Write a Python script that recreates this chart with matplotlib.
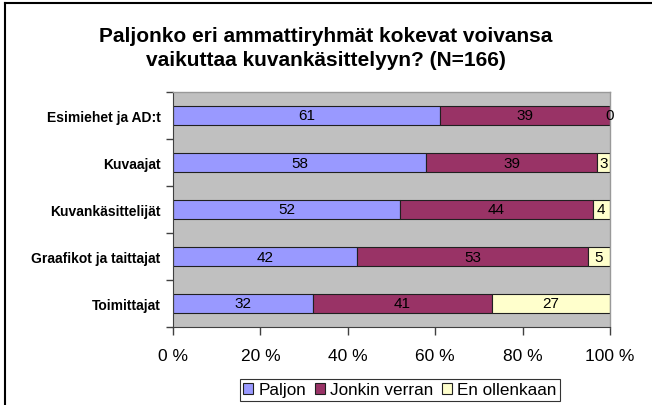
import matplotlib
matplotlib.use("Agg")
import matplotlib.pyplot as plt
from matplotlib.lines import Line2D
import numpy as np

plt.rcParams['font.family'] = ['Liberation Sans', 'DejaVu Sans']

categories = ["Esimiehet ja AD:t", "Kuvaajat", "Kuvankäsittelijät", "Graafikot ja taittajat", "Toimittajat"]
paljon = [61, 58, 52, 42, 32]
jonkin = [39, 39, 44, 53, 41]
ei = [0, 3, 4, 5, 27]
series_names = ["Paljon", "Jonkin verran", "En ollenkaan"]
colors = ["#9999FF", "#993366", "#FFFFCC"]
xticks = [0, 20, 40, 60, 80, 100]
xticklabels = ["0 %", "20 %", "40 %", "60 %", "80 %", "100 %"]

W, H = 652, 406
fig = plt.figure(figsize=(W/100, H/100), dpi=100)
ax = fig.add_axes([173/W, 1-328/H, (610-173)/W, (328-93)/H])
ax.set_facecolor("#C0C0C0")

y = np.arange(len(categories))
left = np.zeros(len(categories))
for vals, name, c in zip([paljon, jonkin, ei], series_names, colors):
    vals = np.array(vals, dtype=float)
    ax.barh(y, vals, left=left, height=0.4, color=c, edgecolor="#202020", linewidth=0.8, label=name)
    for yi, l, v in zip(y, left, vals):
        ax.text(l + v/2, yi, f"{int(v)}", ha="center", va="center", fontsize=11, color="black")
    left = left + vals

ax.set_xlim(0, 100)
ax.set_ylim(len(categories)-0.5, -0.5)
ax.set_xticks(xticks)
ax.set_xticklabels(xticklabels, fontsize=12.5)
ax.set_yticks(y)
ax.set_yticklabels(categories, fontsize=10, fontweight="bold")
ax.tick_params(axis="y", length=0, pad=9)
ax.set_yticks(np.arange(-0.5, len(categories)), minor=True)
ax.tick_params(axis="y", which="minor", length=5, width=1, color="#404040")
ax.tick_params(axis="x", length=6, width=1, color="#404040", pad=9)
for s in ["top", "right"]:
    ax.spines[s].set_color("#999999")
    ax.spines[s].set_linewidth(1)
ax.spines["left"].set_color("#404040")
ax.spines["bottom"].set_color("#404040")

fig.text(326/W, 1-36/H, "Paljonko eri ammattiryhmät kokevat voivansa", ha="center", va="center",
         fontsize=15, fontweight="bold")
fig.text(326/W, 1-61/H, "vaikuttaa kuvankäsittelyyn? (N=166)", ha="center", va="center",
         fontsize=15, fontweight="bold")

leg = fig.legend(loc="center", bbox_to_anchor=(400/W, 1-391/H), ncol=3, fontsize=12.3,
                 frameon=True, fancybox=False, edgecolor="black", handlelength=0.6, handleheight=0.6,
                 handletextpad=0.3, columnspacing=0.5, borderpad=0.2, borderaxespad=0)
leg.get_frame().set_linewidth(0.8)

fig.add_artist(Line2D([5/W, 1], [1-4/H, 1-4/H], color="black", linewidth=1.5, transform=fig.transFigure))
fig.add_artist(Line2D([5/W, 5/W], [0, 1-4/H], color="black", linewidth=1.5, transform=fig.transFigure))

fig.savefig("out.png", dpi=100)
